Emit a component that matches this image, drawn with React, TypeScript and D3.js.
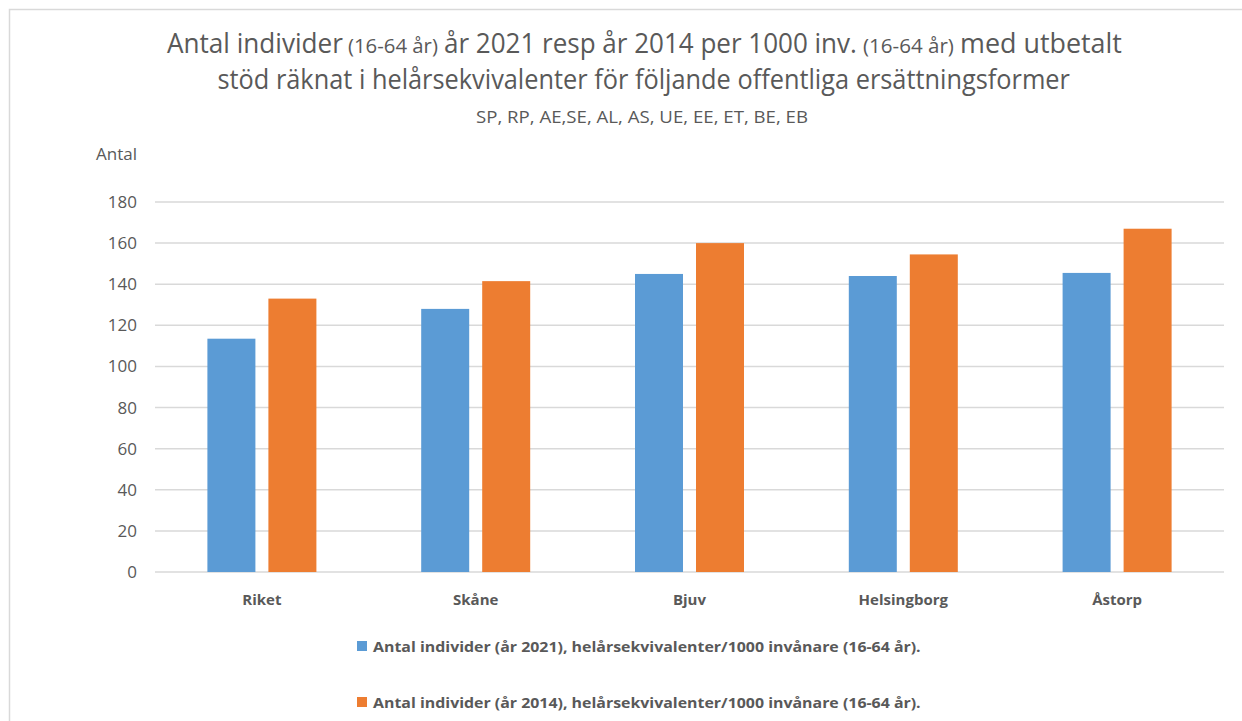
import React, { useLayoutEffect, useRef, useState } from "react";
import * as d3 from "d3";

const categories = ["Riket", "Skåne", "Bjuv", "Helsingborg", "Åstorp"];
const values2021 = [113.5, 128, 145, 144, 145.5];
const values2014 = [133, 141.5, 160, 154.5, 167];
const yTicks = [0, 20, 40, 60, 80, 100, 120, 140, 160, 180];
const seriesNames = [
  "Antal individer (år 2021), helårsekvivalenter/1000 invånare (16-64 år).",
  "Antal individer (år 2014), helårsekvivalenter/1000 invånare (16-64 år).",
];
const titleParts = [
  { t: "Antal individer", small: false, x0: 167, x1: 343 },
  { t: "(16-64 år)", small: true, x0: 348, x1: 438 },
  { t: "år 2021 resp år 2014 per 1000 inv.", small: false, x0: 444, x1: 857 },
  { t: "(16-64 år)", small: true, x0: 863, x1: 954 },
  { t: "med utbetalt", small: false, x0: 960, x1: 1122 },
];
const colors = ["#5B9BD5", "#ED7D31"];

const W = 1242;
const H = 721;
const FONT = "'Open Sans', 'Noto Sans', sans-serif";
const GRAY = "#595959";

function FitText(props: {
  x: number;
  y: number;
  width: number;
  fontSize: number;
  fontWeight?: string;
  children: string;
}) {
  const ref = useRef<SVGTextElement>(null);
  const [sx, setSx] = useState(1);
  useLayoutEffect(() => {
    if (ref.current) {
      const w = ref.current.getComputedTextLength();
      if (w > 0) setSx(props.width / w);
    }
  }, [props.width, props.children]);
  return (
    <text
      ref={ref}
      transform={`translate(${props.x},${props.y}) scale(${sx},1)`}
      fill={GRAY}
      fontFamily={FONT}
      fontSize={props.fontSize}
      fontWeight={props.fontWeight}
    >
      {props.children}
    </text>
  );
}

export default function App() {
  const left = 155;
  const right = 1224;
  const top = 202;
  const bottom = 572;
  const x = d3.scaleBand<string>().domain(categories).range([left, right]);
  const y = d3.scaleLinear().domain([0, 180]).range([bottom, top]);
  const barW = 48;
  const gap = 13;
  const series = [values2021, values2014];

  return (
    <svg
      width={W}
      height={H}
      style={{ position: "absolute", left: 0, top: 0, background: "#fff" }}
    >
      <rect x={0} y={0} width={W} height={H} fill="#fff" />
      <rect x={9.5} y={9.5} width={W + 20} height={H + 20} fill="none" stroke="#d9d9d9" strokeWidth={1.5} />
      {/* title */}
      {titleParts.map((p, i) => (
        <FitText key={i} x={p.x0} y={53} width={p.x1 - p.x0} fontSize={p.small ? 20 : 27}>
          {p.t}
        </FitText>
      ))}
      <FitText x={217.5} y={89} width={853} fontSize={27}>
        stöd räknat i helårsekvivalenter för följande offentliga ersättningsformer
      </FitText>
      <FitText x={476} y={123} width={332} fontSize={16}>
        SP, RP, AE,SE, AL, AS, UE, EE, ET, BE, EB
      </FitText>
      {/* axis title */}
      <text x={96} y={160} fill={GRAY} fontFamily={FONT} fontSize={17}>Antal</text>
      {/* gridlines */}
      {yTicks.map((t) => (
        <g key={t}>
          <line x1={left} x2={right} y1={y(t)} y2={y(t)} stroke="#d9d9d9" strokeWidth={1.5} />
          <text x={137} y={y(t) + 6} textAnchor="end" fill={GRAY} fontFamily={FONT} fontSize={17}>
            {t}
          </text>
        </g>
      ))}
      {/* bars */}
      {categories.map((c, i) => {
        const cx = (x(c) as number) + x.bandwidth() / 2;
        return (
          <g key={c}>
            {series.map((s, k) => {
              const bx = k === 0 ? cx - gap / 2 - barW : cx + gap / 2;
              return (
                <rect key={k} x={bx} y={y(s[i])} width={barW} height={y(0) - y(s[i])} fill={colors[k]} />
              );
            })}
            <text x={cx} y={605} textAnchor="middle" fill={GRAY} fontFamily={FONT} fontSize={15} fontWeight="bold">
              {c}
            </text>
          </g>
        );
      })}
      {/* legend */}
      {seriesNames.map((n, k) => {
        const ly = 646 + k * 56;
        return (
          <g key={n}>
            <rect x={357} y={ly - 5} width={10} height={10} fill={colors[k]} />
            <FitText x={373} y={ly + 6} width={548} fontSize={15} fontWeight="bold">
              {n}
            </FitText>
          </g>
        );
      })}
    </svg>
  );
}
